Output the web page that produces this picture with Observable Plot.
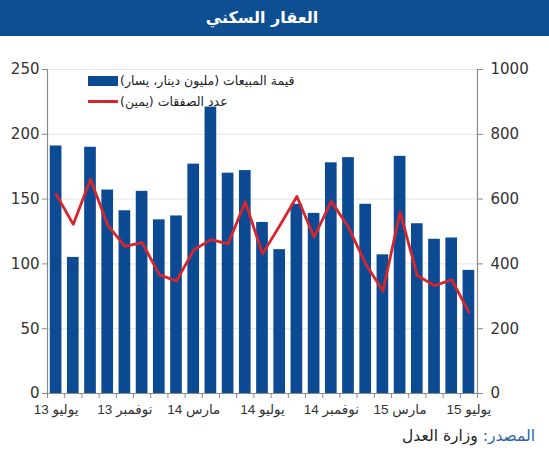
<!DOCTYPE html>
<html><head><meta charset="utf-8">
<script src="https://cdn.jsdelivr.net/npm/d3@7"></script>
<script src="https://cdn.jsdelivr.net/npm/@observablehq/plot@0.6"></script>
<style>
body{margin:0;background:#fff;font-family:"Liberation Sans","DejaVu Sans",Arial,sans-serif;}
#wrap{position:relative;width:549px;height:450px;overflow:hidden;background:#fff}
#title{height:36px;background:#0e4f93;color:#fff;font-weight:bold;font-size:16px;line-height:36px;text-align:center;padding-right:25px;font-family:"DejaVu Sans",sans-serif}
#chart{position:absolute;left:0;top:36px}
#legend{position:absolute;left:88px;top:70px;font-size:12.5px;color:#222;font-family:"DejaVu Sans",sans-serif}
.row{display:flex;align-items:center;height:21px}
.sw{width:30px;height:10px;background:#0d4a94;margin-right:2px}
.ln{width:30px;height:3px;background:#d6262d;margin-right:2px}
#source{position:absolute;right:14px;top:427px;font-size:15.5px;color:#222;font-family:"DejaVu Sans",sans-serif}
#source .b{color:#2a64b0}
</style></head>
<body>
<div id="wrap">
<div id="title">العقار السكني</div>
<div id="chart"></div>
<div id="legend">
 <div class="row"><div class="sw"></div><span dir="rtl">قيمة المبيعات (مليون دينار، يسار)</span></div>
 <div class="row"><div class="ln"></div><span dir="rtl">عدد الصفقات (يمين)</span></div>
</div>
<div id="source" dir="rtl"><span class="b">المصدر:</span> وزارة العدل</div>
</div>
<script>
// Monthly data, July 2013 – July 2015
const salesValue = [191,105,190,157,141,156,134,137,177,221,170,172,132,111,146,139,178,182,146,107,183,131,119,120,95];
const dealsCount = [615,522,661,520,454,466,367,347,443,475,462,591,431,518,608,483,593,513,400,316,560,364,333,351,251];
const labelMonths = [0,4,8,12,16,20,24];
const xLabels = ["يوليو 13","نوفمبر 13","مارس 14","يوليو 14","نوفمبر 14","مارس 15","يوليو 15"];
const leftTicks = [0,50,100,150,200,250];

const data = salesValue.map((v,i)=>({i, v, d: dealsCount[i]}));
const labelPos = labelMonths.map(m=>m+0.5);

const chart = Plot.plot({
  width:549, height:389,
  marginLeft:47, marginRight:72, marginTop:33, marginBottom:32,
  x:{domain:[0,25], axis:null},
  y:{domain:[0,250], axis:null},
  style:{fontFamily:"'Liberation Sans','DejaVu Sans',Arial,sans-serif", color:"#333", background:"transparent"},
  marks:[
    Plot.gridY(leftTicks,{stroke:"#e4e4e4", strokeOpacity:1}),
    Plot.rect(data,{x1:d=>d.i+0.16, x2:d=>d.i+0.84, y1:0, y2:"v", fill:"#0d4a94"}),
    Plot.line(data,{x:d=>d.i+0.5, y:d=>d.d/4, stroke:"#d6262d", strokeWidth:2.8}),
    Plot.ruleX([0,25],{stroke:"#8a8a8a", strokeWidth:1.2}),
    Plot.ruleY([0],{stroke:"#8a8a8a", strokeWidth:1.2}),
    Plot.axisY(leftTicks,{anchor:"left", tickSize:5, tickPadding:3, stroke:"#8a8a8a", fontSize:15, fontFamily:"DejaVu Sans", label:null}),
    Plot.axisY(leftTicks,{anchor:"right", tickSize:5, tickPadding:8, stroke:"#8a8a8a", fontSize:15, fontFamily:"DejaVu Sans", label:null, tickFormat:d=>String(d*4)}),
    Plot.axisX(d3.range(0,26),{anchor:"bottom", tickSize:5, stroke:"#8a8a8a", tickFormat:()=>"", label:null}),
    Plot.axisX(labelPos,{anchor:"bottom", tickSize:0, tickPadding:11, fontSize:13.5, label:null,
      tickFormat:d=>"\u202B"+xLabels[labelPos.indexOf(d)]+"\u202C"})
  ]
});
document.getElementById("chart").appendChild(chart);
</script>
</body></html>
